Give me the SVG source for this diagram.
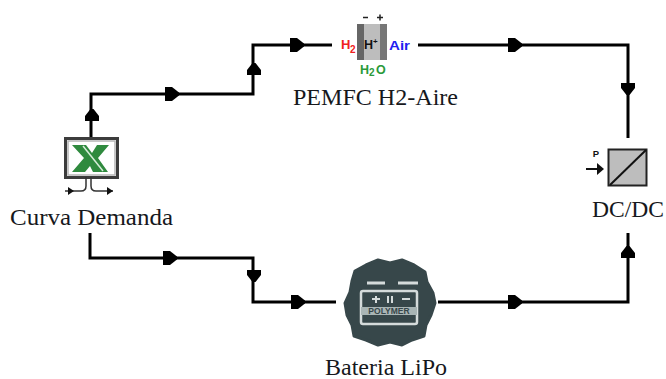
<svg xmlns="http://www.w3.org/2000/svg" width="666" height="379" viewBox="0 0 666 379">
<style>
.w{fill:none;stroke:#000;stroke-width:3}
.lbl{font-family:"Liberation Serif",serif;font-size:23px;fill:#16181c}
.sm{font-family:"Liberation Sans",sans-serif;font-weight:bold}
</style>
<defs>
<path id="r" d="M-7-7H0L7-1.500V1.500L0 7H-7Z" fill="#000"/>
<path id="u" d="M-7 6V1L-1.500-6H1.500L7 1V6Z" fill="#000"/>
<path id="d" d="M-7-6V-1L-1.500 6H1.500L7-1V-6Z" fill="#000"/>
</defs>
<rect width="666" height="379" fill="#fff"/>
<g id="connectors">
<path class="w" d="M91 138V94H253V45H332"/>
<path class="w" d="M90 233V258H253V302H336"/>
<path class="w" d="M418 45H628V138"/>
<path class="w" d="M438 302H628V233"/>
<use href="#u" x="92" y="115"/><use href="#r" x="172" y="94"/><use href="#u" x="254" y="69"/><use href="#r" x="297" y="45"/>
<use href="#r" x="170" y="258"/><use href="#d" x="254" y="276"/><use href="#r" x="298" y="302"/>
<use href="#r" x="515" y="45"/><use href="#d" x="628" y="89"/>
<use href="#r" x="515" y="302"/><use href="#u" x="628" y="252"/>
</g>
<g id="curva-demanda">
<rect x="65.500" y="138.500" width="52" height="39" fill="#fff" stroke="#3c3c3c" stroke-width="3"/>
<rect x="68" y="141" width="47" height="34" fill="none" stroke="#b5b5b5" stroke-width="1.500"/>
<path d="M72 145H86L92 153L97 145H109L98 158L108 172H93L90 166L85 172H72L84 158Z" fill="#2f8a3e"/>
<path d="M83 146L103 171" stroke="#d7ecd9" stroke-width="1.500"/>
<path d="M86 177V186Q86 191 81 191H65M91 177V186Q91 191 96 191H113" fill="none" stroke="#333" stroke-width="1.500"/>
<path d="M68 187L74 191L68 195ZM107 187L113 191L107 195Z" fill="#111"/>
<text class="lbl" x="10" y="225" textLength="163" lengthAdjust="spacingAndGlyphs">Curva Demanda</text>
</g>
<g id="pemfc">
<rect x="357" y="24" width="30" height="36" fill="#bdbdbd"/>
<rect x="357" y="24" width="7" height="36" fill="#666"/>
<rect x="380" y="24" width="7" height="36" fill="#777"/>
<path d="M363 17.500H368M377 17.500H383M380 14.500V20.500" stroke="#222" stroke-width="1.500"/>
<text class="sm" x="364" y="49" font-size="12.500" fill="#111">H</text>
<text class="sm" x="373" y="44" font-size="8" fill="#111">+</text>
<text class="sm" x="341" y="49" font-size="13" fill="#f02020">H</text>
<text class="sm" x="350" y="53" font-size="10" fill="#f02020">2</text>
<text class="sm" x="389" y="50" font-size="13" fill="#2020f0" textLength="21" lengthAdjust="spacingAndGlyphs">Air</text>
<text class="sm" x="360" y="74" font-size="12.500" fill="#2a9a3a">H</text>
<text class="sm" x="369" y="76" font-size="10" fill="#2a9a3a">2</text>
<text class="sm" x="376" y="74" font-size="12.500" fill="#2a9a3a">O</text>
<text class="lbl" x="293" y="105" textLength="165" lengthAdjust="spacingAndGlyphs">PEMFC H2-Aire</text>
</g>
<g id="bateria-lipo">
<path d="M366 265L378 260L390 263L402 260L414 265L425 272L427 282L433 293L435 303L431 315L426 325L424 336L412 340L402 345L390 342L378 345L366 340L354 336L352 325L347 315L345 303L350 292L352 281L355 271Z" fill="#37474a" stroke="#37474a" stroke-width="3" stroke-linejoin="round"/>
<path d="M367 283H385M398 283H418" stroke="#d5dbdb" stroke-width="3"/>
<rect x="361" y="291" width="56" height="33" rx="2" fill="none" stroke="#d5dbdb" stroke-width="2.500"/>
<rect x="361" y="307" width="56" height="8" fill="#a9b5b5"/>
<path d="M372 299H380M376 296V303M388 296V303M392 296V303M402 299H410" stroke="#d5dbdb" stroke-width="2"/>
<text x="389" y="314" text-anchor="middle" class="sm" font-size="8.500" fill="#37474a">POLYMER</text>
<text class="lbl" x="325" y="375" textLength="122" lengthAdjust="spacingAndGlyphs">Bateria LiPo</text>
</g>
<g id="dc-dc">
<rect x="608.500" y="149.500" width="38" height="36" fill="#bdbdbd" stroke="#222" stroke-width="2"/>
<path d="M610 185L646 150" stroke="#111" stroke-width="2"/>
<path d="M586 169H598" stroke="#111" stroke-width="2"/>
<path d="M597 163L604 169L597 175Z" fill="#111"/>
<text class="sm" x="596" y="157" text-anchor="middle" font-size="9.500" fill="#111">P</text>
<text class="lbl" x="592" y="217" textLength="72" lengthAdjust="spacingAndGlyphs">DC/DC</text>
</g>
</svg>
